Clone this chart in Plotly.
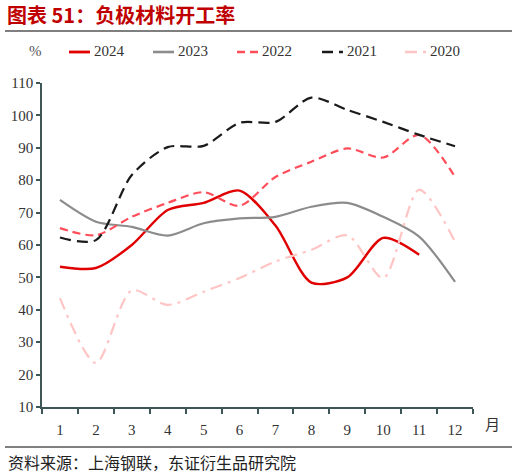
import plotly.graph_objects as go

# 月份
months = ["1", "2", "3", "4", "5", "6", "7", "8", "9", "10", "11", "12"]

# 开工率 (%)
y2024 = [53.3, 52.9, 60.0, 70.8, 73.0, 76.8, 66.0, 48.4, 50.0, 62.2, 57.0]
y2023 = [73.9, 67.2, 65.6, 62.9, 66.7, 68.2, 68.7, 71.8, 73.0, 68.7, 62.6, 48.6]
y2022 = [65.2, 63.0, 68.7, 73.0, 76.3, 72.1, 81.0, 85.7, 89.8, 87.0, 94.0, 81.0]
y2021 = [62.3, 61.5, 81.6, 90.2, 90.6, 97.7, 98.0, 105.5, 101.7, 98.0, 94.0, 90.5]
y2020 = [43.6, 23.6, 46.0, 41.5, 45.6, 49.8, 54.9, 58.5, 63.0, 49.8, 77.0, 61.0]

W, H = 517, 475
ml, mr, mt, mb = 42, 44, 83, 68
pw, ph = W - ml - mr, H - mt - mb


# 像素 -> paper 坐标
def px(x):
    return (x - ml) / pw


def py(y):
    return (H - mb - y) / ph


fig = go.Figure()

series = [
    ("2024", y2024, "#E00000", "solid", 2.4),
    ("2023", y2023, "#8C8C8C", "solid", 2.2),
    ("2022", y2022, "#FF4D5A", "8px,5px", 2.2),
    ("2021", y2021, "#1A1A1A", "11px,6px", 2.2),
    ("2020", y2020, "#FFC4C4", "12px,6px,3px,6px", 2.2),
]
for name, vals, col, dash, w in series:
    fig.add_trace(go.Scatter(
        x=months[:len(vals)], y=vals, name=name, mode="lines",
        line=dict(color=col, dash=dash, width=w, shape="spline", smoothing=0.8),
    ))

axis_col = "#3F5656"
fig.update_xaxes(
    type="category", showgrid=False, showline=True, linecolor=axis_col, linewidth=1.5,
    ticks="outside", tickson="boundaries", ticklen=5, tickcolor=axis_col, tickwidth=1.5,
    tickfont=dict(family="Liberation Serif", size=15, color="#333333"),
    ticklabelstandoff=8,
    range=[-0.5, 11.5], zeroline=False,
)
fig.update_yaxes(
    range=[10, 110], dtick=10, showgrid=False, showline=True, linecolor=axis_col,
    linewidth=1.5, ticks="outside", ticklen=4, tickcolor=axis_col, tickwidth=1.5,
    tickfont=dict(family="Liberation Serif", size=15, color="#333333"), zeroline=False,
)

shapes = [
    dict(type="line", xref="paper", yref="paper", x0=px(5), x1=px(512),
         y0=py(31), y1=py(31), line=dict(color="#7F7F7F", width=2)),
    dict(type="line", xref="paper", yref="paper", x0=px(5), x1=px(512),
         y0=py(447), y1=py(447), line=dict(color="#000000", width=1)),
]
annotations = [
    dict(text="<b>图表 51：负极材料开工率</b>", xref="paper", yref="paper",
         x=px(5), y=py(15), xanchor="left", yanchor="middle",
         showarrow=False, font=dict(family="Noto Sans CJK SC", size=20, color="#C00000")),
    dict(text="%", xref="paper", yref="paper", x=px(35), y=py(51),
         xanchor="center", yanchor="middle", showarrow=False,
         font=dict(family="Liberation Serif", size=15, color="#555555")),
    dict(text="月", xref="paper", yref="paper", x=px(483), y=py(423),
         xanchor="left", yanchor="middle", showarrow=False,
         font=dict(family="Noto Sans CJK SC", size=15, color="#333333")),
    dict(text="资料来源：上海钢联，东证衍生品研究院", xref="paper", yref="paper",
         x=px(6), y=py(462), xanchor="left", yanchor="middle",
         showarrow=False, font=dict(family="Noto Sans CJK SC", size=16, color="#222222")),
]

# 图例 (手工排布)
leg_x = [69, 153, 237, 322, 405]
for (name, vals, col, dash, w), lx in zip(series, leg_x):
    shapes.append(dict(type="line", xref="paper", yref="paper",
                       x0=px(lx), x1=px(lx + 21), y0=py(52), y1=py(52),
                       line=dict(color=col, width=w + 0.4, dash=dash)))
    annotations.append(dict(text=name, xref="paper", yref="paper",
                            x=px(lx + 23), y=py(51), xanchor="left", yanchor="middle",
                            showarrow=False,
                            font=dict(family="Liberation Serif", size=15, color="#333333")))

fig.update_layout(
    width=W, height=H,
    margin=dict(l=ml, r=mr, t=mt, b=mb, autoexpand=False),
    paper_bgcolor="white", plot_bgcolor="white",
    showlegend=False,
    shapes=shapes,
    annotations=annotations,
)

# 去掉页面默认边距
fig.write_html("out.html", config={"displayModeBar": False},
               post_script="document.body.style.margin='0px';")
